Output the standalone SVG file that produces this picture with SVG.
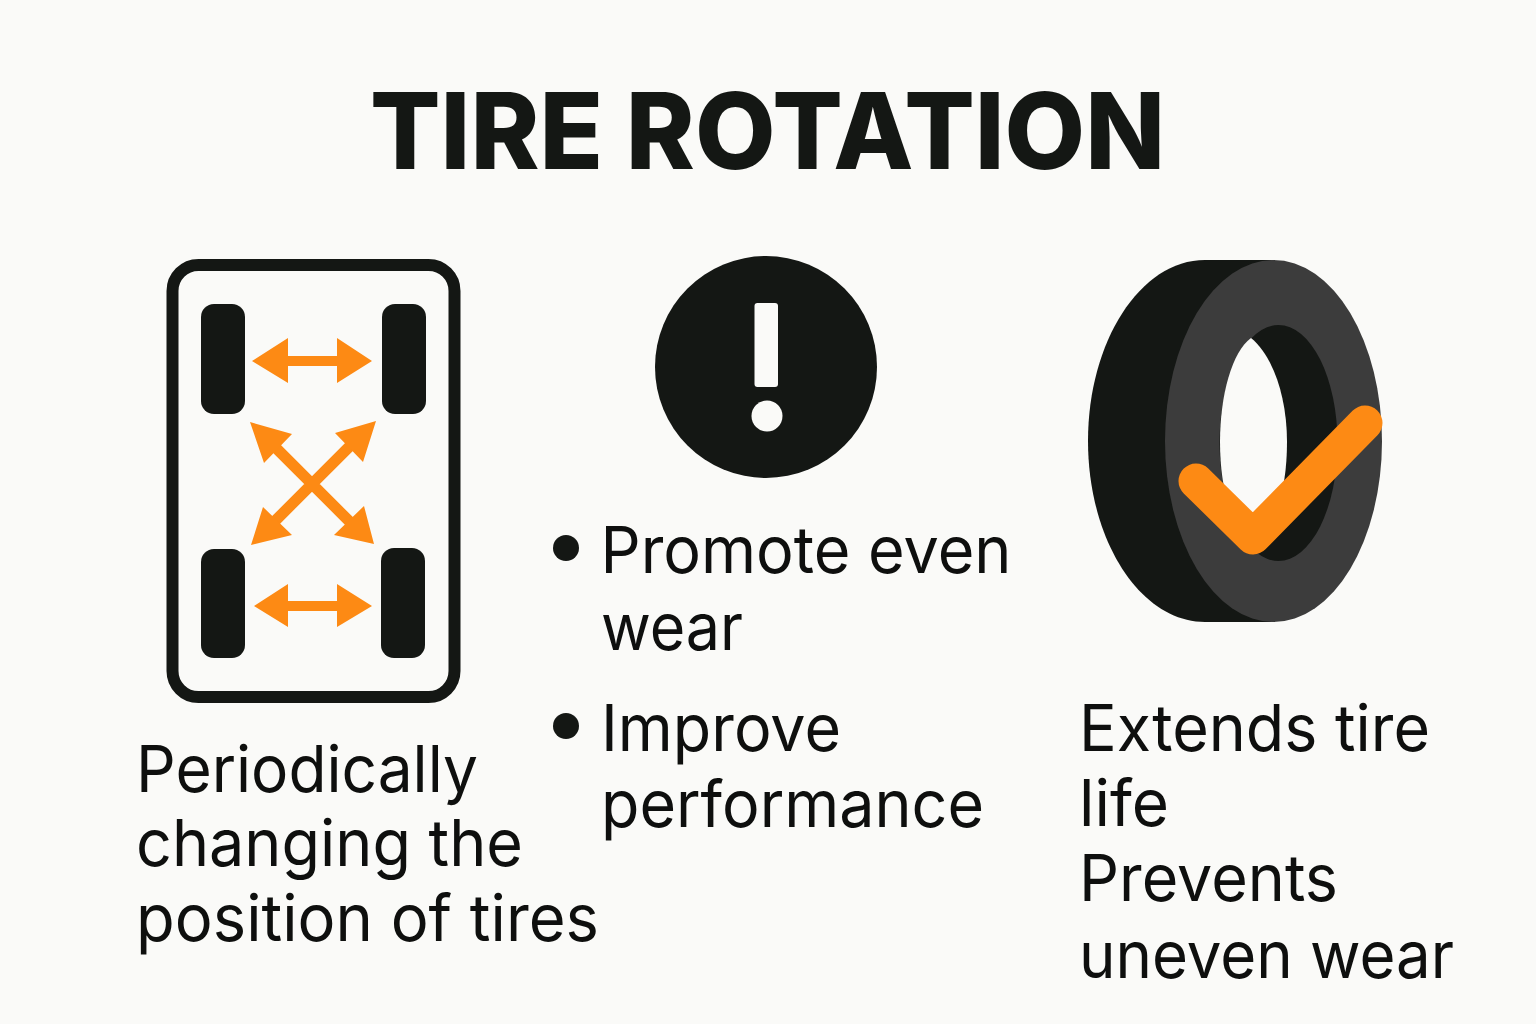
<svg xmlns="http://www.w3.org/2000/svg" width="1536" height="1024" viewBox="0 0 1536 1024">
<style>
.t{font-family:"Inter","Liberation Sans",sans-serif;font-size:65px;fill:#0e0f0e}
.k{fill:#141714}
.o{fill:#fd8a14}
.a{stroke:#fd8a14;stroke-width:10;fill:none}
.d{stroke:#fd8a14;stroke-width:11;fill:none}
</style>
<rect width="1536" height="1024" fill="#fafaf8"/>
<text id="title" x="370" y="169" textLength="795" lengthAdjust="spacingAndGlyphs" font-family="Inter,'Liberation Sans',sans-serif" font-weight="800" font-size="106" fill="#141714">TIRE ROTATION</text>
<g id="car">
<rect x="172.500" y="265" width="282" height="432" rx="26" fill="none" stroke="#141714" stroke-width="12"/>
<rect class="k" x="201" y="304" width="44" height="110" rx="13"/>
<rect class="k" x="382" y="304" width="44" height="110" rx="13"/>
<rect class="k" x="201" y="549" width="44" height="109" rx="13"/>
<rect class="k" x="381" y="548" width="44" height="110" rx="13"/>
</g>
<g id="connectors">
<path class="a" d="M280 361H345M282 606H345"/>
<path class="d" d="M272 444L352 524M354 442L272 524"/>
<path class="o" d="M252 361L288 338V383ZM372 361L337 338V383ZM254 606L288 584V627ZM372 606L337 584V627ZM250 422L292 434L264 463ZM376 421L363 462L335 433ZM251 545L263 507L292 535ZM374 544L334 535L364 506Z"/>
</g>
<g id="alert">
<circle class="k" cx="766" cy="367" r="111"/>
<rect x="754.500" y="303" width="23.500" height="84" rx="3" fill="#fafaf8"/>
<circle cx="767" cy="416" r="15.500" fill="#fafaf8"/>
</g>
<g id="tire">
<path class="k" d="M1205 260H1275V622H1205C1140 622 1088 540 1088 441C1088 342 1140 260 1205 260Z"/>
<ellipse cx="1273.500" cy="441" rx="108.500" ry="181" fill="#3c3c3c"/>
<ellipse class="k" cx="1278.500" cy="443" rx="59" ry="118"/>
<path fill="#fafaf8" d="M1251 338C1232 352 1220 395 1220 442C1220 490 1232 530 1253 546C1275 530 1287 490 1287 442C1287 395 1272 355 1251 338Z"/>
<path d="M1196 481L1253 537L1365 423" fill="none" stroke="#fd8a14" stroke-width="35" stroke-linecap="round" stroke-linejoin="round"/>
</g>
<g id="text-left">
<text class="t" x="136" y="792" textLength="342" lengthAdjust="spacingAndGlyphs">Periodically</text>
<text class="t" x="136" y="866" textLength="387" lengthAdjust="spacingAndGlyphs">changing the</text>
<text class="t" x="136" y="941" textLength="463" lengthAdjust="spacingAndGlyphs">position of tires</text>
</g>
<g id="text-middle">
<circle class="k" cx="566" cy="548" r="13"/>
<circle class="k" cx="566" cy="726" r="13"/>
<text class="t" x="600.500" y="573" textLength="411" lengthAdjust="spacingAndGlyphs">Promote even</text>
<text class="t" x="601" y="650" textLength="142" lengthAdjust="spacingAndGlyphs">wear</text>
<text class="t" x="601" y="751" textLength="240" lengthAdjust="spacingAndGlyphs">Improve</text>
<text class="t" x="601" y="827" textLength="383" lengthAdjust="spacingAndGlyphs">performance</text>
</g>
<g id="text-right">
<text class="t" x="1079" y="751" textLength="351" lengthAdjust="spacingAndGlyphs">Extends tire</text>
<text class="t" x="1079" y="826" textLength="90" lengthAdjust="spacingAndGlyphs">life</text>
<text class="t" x="1079" y="901" textLength="259" lengthAdjust="spacingAndGlyphs">Prevents</text>
<text class="t" x="1079" y="978" textLength="375" lengthAdjust="spacingAndGlyphs">uneven wear</text>
</g>
</svg>
